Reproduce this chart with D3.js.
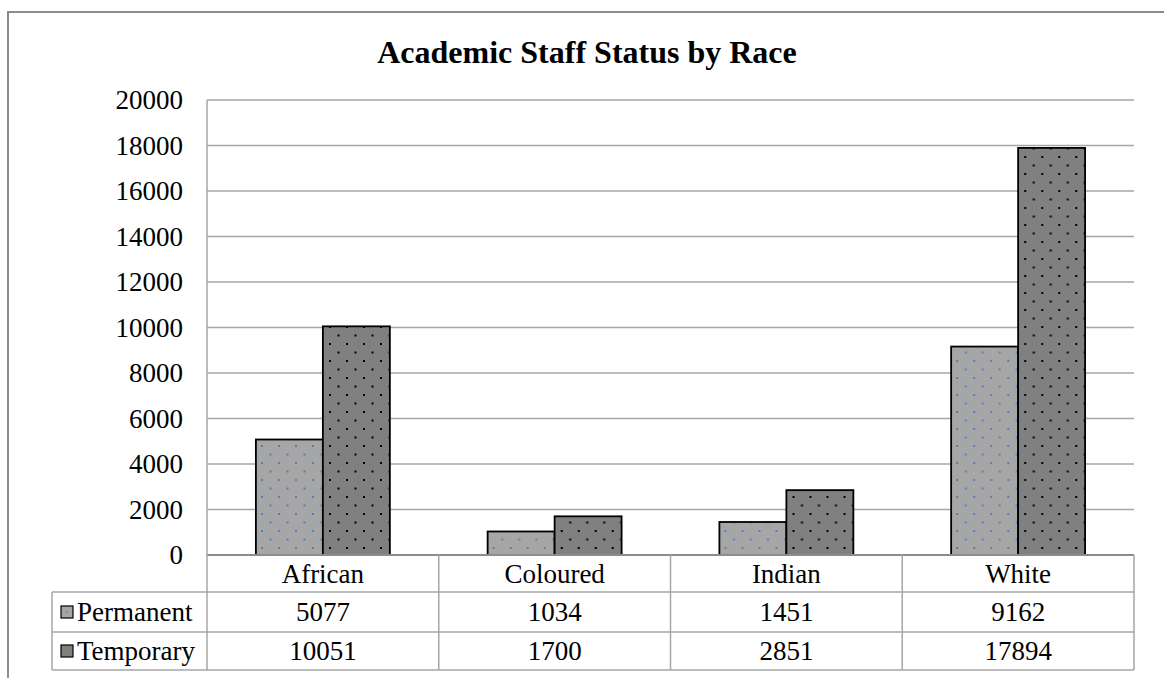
<!DOCTYPE html>
<html>
<head>
<meta charset="utf-8">
<script src="https://cdn.jsdelivr.net/npm/d3@7"></script>
<style>
  html, body { margin: 0; padding: 0; background: #fff; }
  svg { display: block; font-family: "Liberation Serif", "Times New Roman", serif; }
</style>
</head>
<body>
<svg id="chart" width="1164" height="678"></svg>
<script>
// Academic staff counts by race and employment status
const categories = ["African", "Coloured", "Indian", "White"];
const seriesNames = ["Permanent", "Temporary"];
const permanent = [5077, 1034, 1451, 9162];
const temporary = [10051, 1700, 2851, 17894];
const yTicks = [0, 2000, 4000, 6000, 8000, 10000, 12000, 14000, 16000, 18000, 20000];
const title = "Academic Staff Status by Race";

const seriesValues = [permanent, temporary];
const seriesFill = ["#a6a6a6", "#808080"];
const seriesDot = ["#4f81bd", "#000000"];

const svg = d3.select("#chart");
const W = 1164, H = 678;
const fontSize = 27;

const plot = { left: 207, right: 1134, top: 100, bottom: 555 };
const table = { left: 52, rowTops: [555, 592, 632, 670] };
const gridColor = "#a6a6a6";

// dotted fill patterns
const defs = svg.append("defs");
seriesNames.forEach((name, i) => {
  const p = defs.append("pattern")
    .attr("id", "pat" + i)
    .attr("patternUnits", "userSpaceOnUse")
    .attr("width", 17).attr("height", 17);
  p.append("rect").attr("width", 17).attr("height", 17).attr("fill", seriesFill[i]);
  p.append("rect").attr("x", 3).attr("y", 3).attr("width", 2).attr("height", 2).attr("fill", seriesDot[i]);
  p.append("rect").attr("x", 11.5).attr("y", 11.5).attr("width", 2).attr("height", 2).attr("fill", seriesDot[i]);
});

// chart frame
svg.append("rect")
  .attr("x", 8).attr("y", 12)
  .attr("width", W + 20).attr("height", H + 20)
  .attr("fill", "none").attr("stroke", "#8c8c8c").attr("stroke-width", 2);

// title
svg.append("text")
  .attr("x", 587).attr("y", 63)
  .attr("text-anchor", "middle")
  .attr("font-weight", "bold")
  .attr("font-size", 32)
  .text(title);

const x0 = d3.scaleBand().domain(categories).range([plot.left, plot.right]).padding(0);
const x1 = d3.scaleBand().domain(seriesNames).range([0, x0.bandwidth()]).paddingInner(0).paddingOuter(0.73);
const y = d3.scaleLinear().domain([0, 20000]).range([plot.bottom, plot.top]);

// gridlines
svg.append("g")
  .selectAll("line")
  .data(yTicks.filter(t => t > 0))
  .join("line")
  .attr("x1", plot.left).attr("x2", plot.right)
  .attr("y1", d => y(d)).attr("y2", d => y(d))
  .attr("stroke", gridColor).attr("stroke-width", 1.5);

// y axis labels
const yAxis = d3.axisLeft(y).tickValues(yTicks).tickSize(0).tickPadding(24).tickFormat(d3.format("d"));
const gy = svg.append("g").attr("transform", `translate(${plot.left},0)`).call(yAxis);
gy.attr("font-family", null).attr("font-size", null);
gy.select(".domain").remove();
gy.selectAll("text")
  .attr("font-size", fontSize)
  .attr("fill", "#000");

// bars
const groups = svg.append("g")
  .selectAll("g")
  .data(categories)
  .join("g")
  .attr("transform", d => `translate(${x0(d)},0)`);

groups.selectAll("rect")
  .data((c, ci) => seriesNames.map((s, si) => ({ s, si, v: seriesValues[si][ci] })))
  .join("rect")
  .attr("x", d => x1(d.s))
  .attr("y", d => y(d.v))
  .attr("width", x1.bandwidth())
  .attr("height", d => y(0) - y(d.v))
  .attr("fill", d => `url(#pat${d.si})`)
  .attr("stroke", "#000")
  .attr("stroke-width", 1.8);

// data table lines
const tl = svg.append("g").attr("stroke", gridColor).attr("stroke-width", 1.5);
const rt = table.rowTops;
// horizontal lines
tl.append("line").attr("x1", plot.left).attr("x2", plot.right).attr("y1", rt[0]).attr("y2", rt[0]).attr("stroke", "#8c8c8c").attr("stroke-width", 2);
[rt[1], rt[2], rt[3]].forEach(yy => {
  tl.append("line").attr("x1", table.left).attr("x2", plot.right).attr("y1", yy).attr("y2", yy);
});
// left edge of plot/table
tl.append("line").attr("x1", plot.left).attr("x2", plot.left).attr("y1", plot.top).attr("y2", rt[3]);
tl.append("line").attr("x1", table.left).attr("x2", table.left).attr("y1", rt[1]).attr("y2", rt[3]);
// category column dividers
categories.forEach(c => {
  const xr = x0(c) + x0.bandwidth();
  tl.append("line").attr("x1", xr).attr("x2", xr).attr("y1", rt[0]).attr("y2", rt[3]);
});

// category header row
svg.append("g")
  .selectAll("text")
  .data(categories)
  .join("text")
  .attr("x", d => x0(d) + x0.bandwidth() / 2)
  .attr("y", (rt[0] + rt[1]) / 2 + 9)
  .attr("text-anchor", "middle")
  .attr("font-size", fontSize)
  .text(d => d);

// value rows
seriesNames.forEach((s, si) => {
  const cy = (rt[si + 1] + rt[si + 2]) / 2;
  svg.append("g")
    .selectAll("text")
    .data(seriesValues[si])
    .join("text")
    .attr("x", (d, i) => x0(categories[i]) + x0.bandwidth() / 2)
    .attr("y", cy + 9)
    .attr("text-anchor", "middle")
    .attr("font-size", fontSize)
    .text(d => d);

  // legend key
  svg.append("rect")
    .attr("x", 61).attr("y", cy - 6)
    .attr("width", 12).attr("height", 12)
    .attr("fill", seriesFill[si])
    .attr("stroke", "#000").attr("stroke-width", 1.2);
  if (si === 0) {
    svg.append("rect").attr("x", 66).attr("y", cy - 1).attr("width", 1.5).attr("height", 1.5).attr("fill", seriesDot[0]);
  }
  svg.append("text")
    .attr("x", 77).attr("y", cy + 9)
    .attr("font-size", fontSize)
    .text(s);
});
</script>
</body>
</html>
